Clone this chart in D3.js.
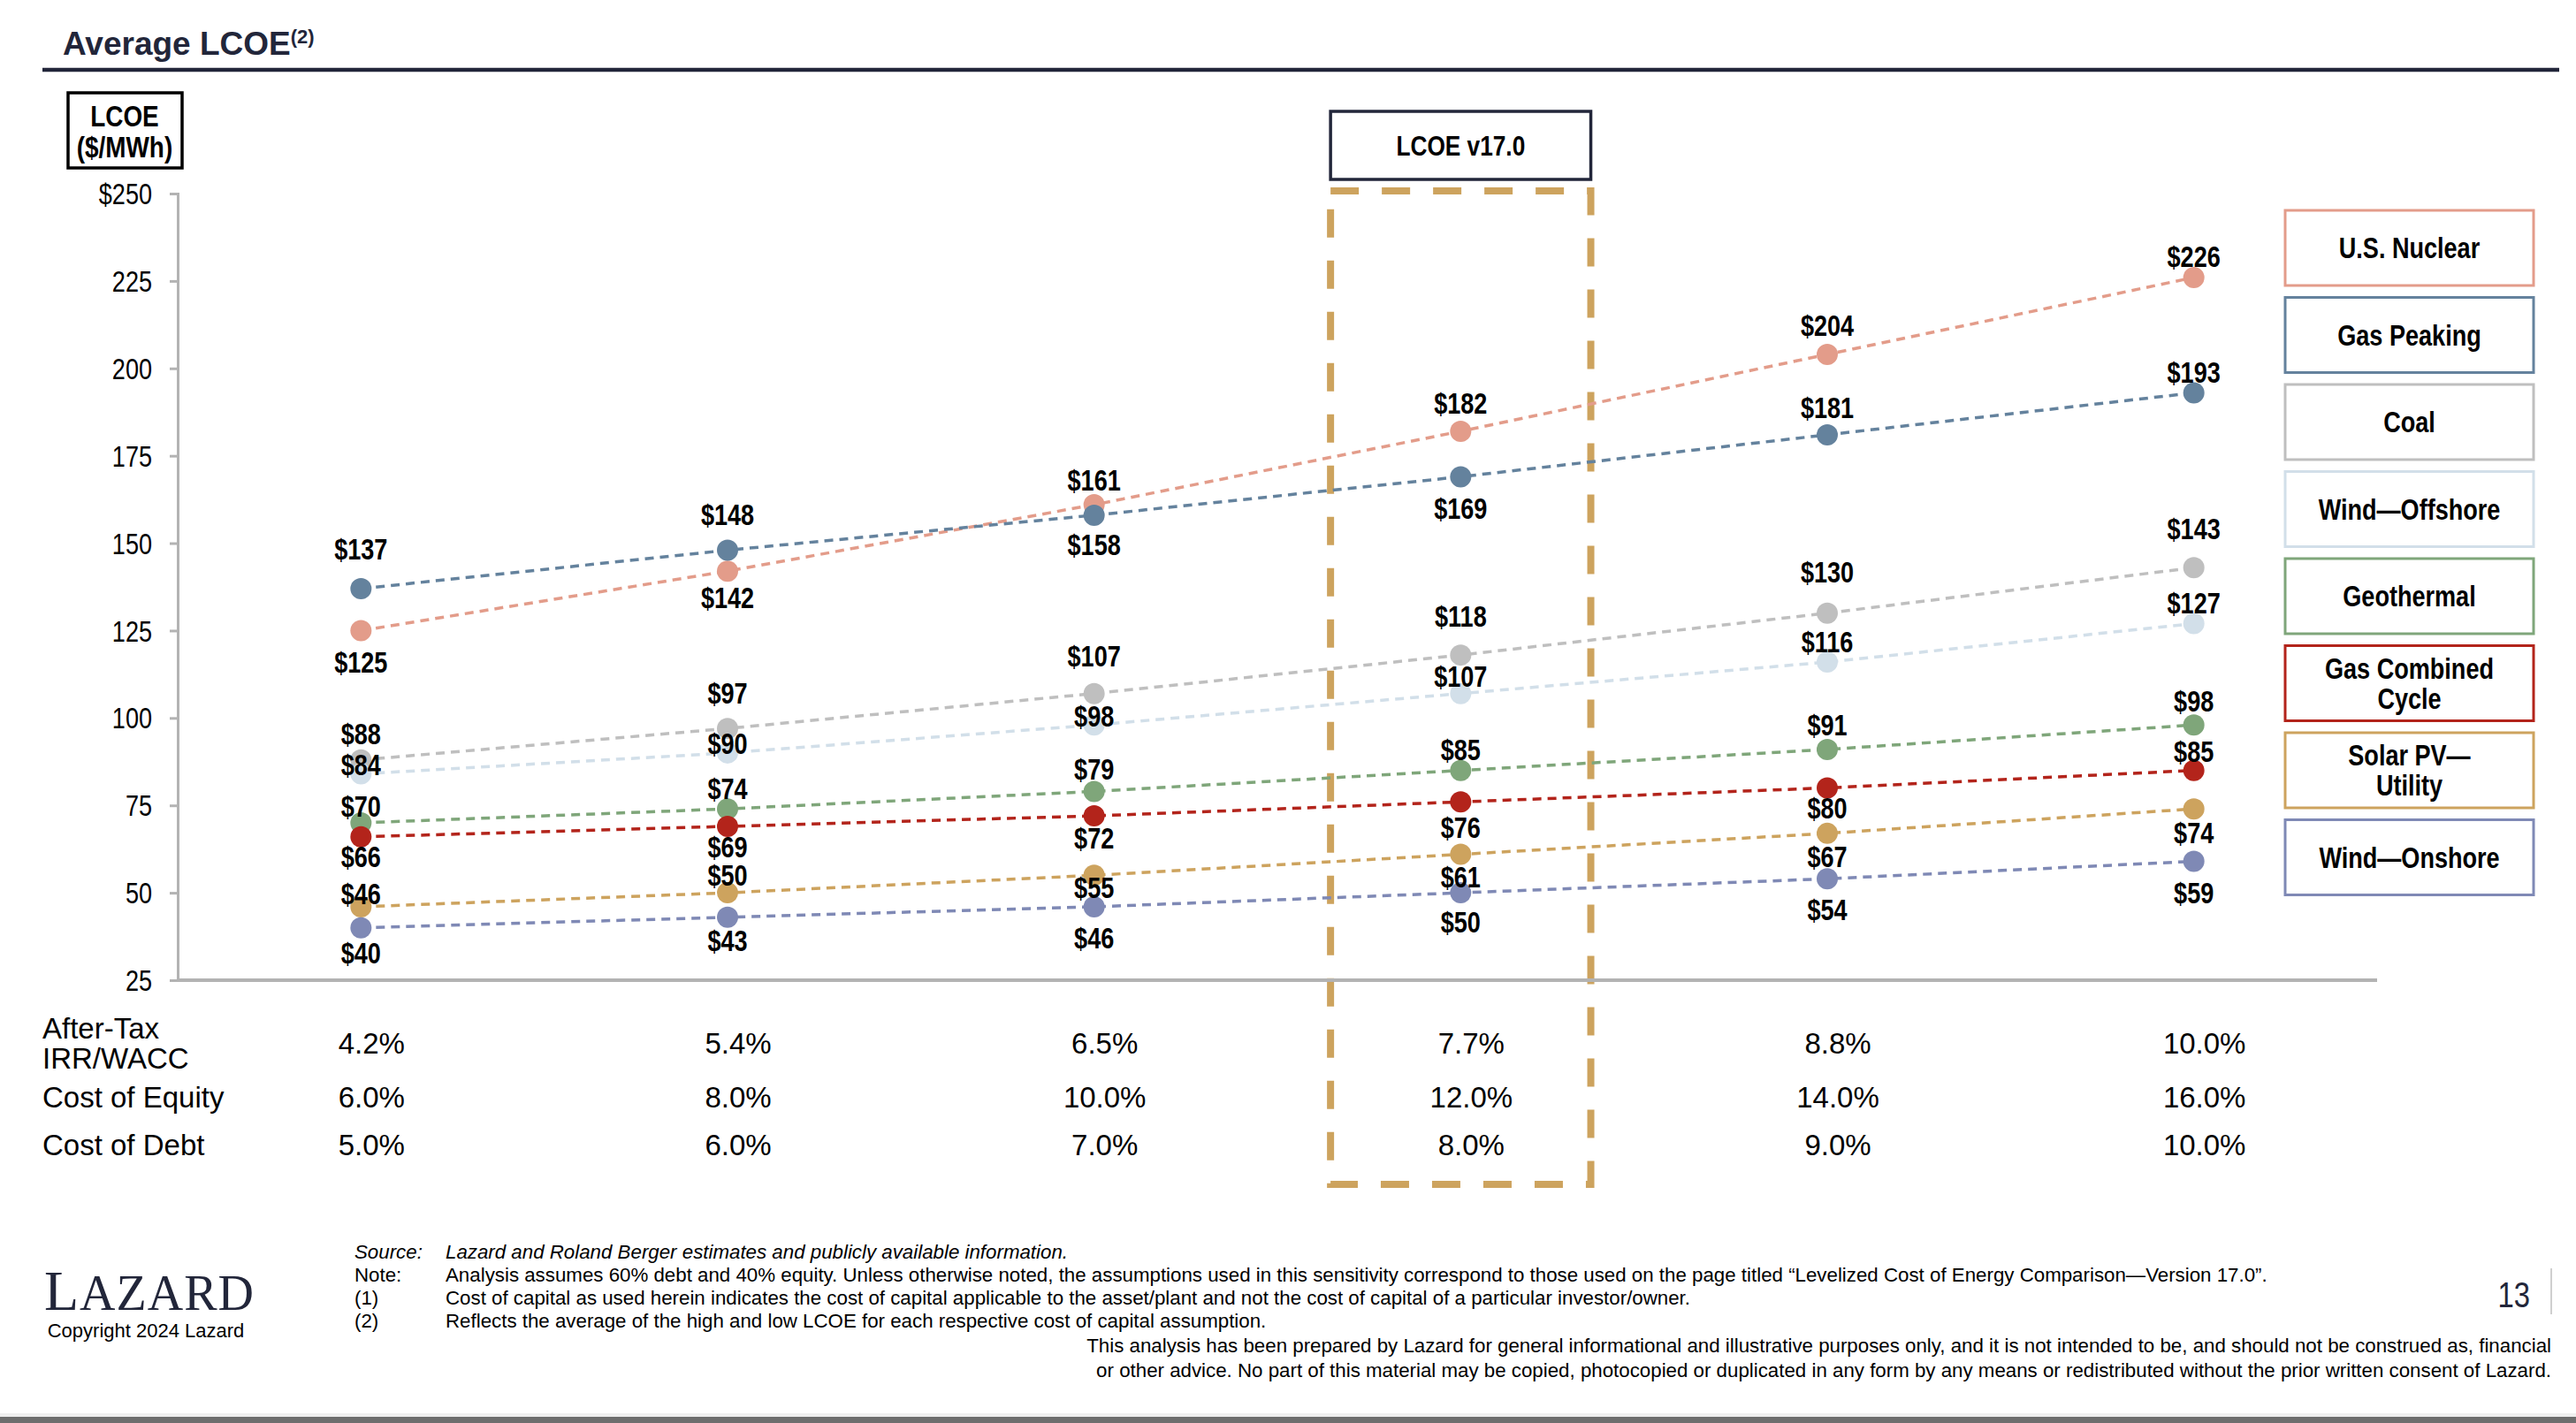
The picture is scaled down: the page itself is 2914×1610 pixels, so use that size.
<!DOCTYPE html>
<html>
<head>
<meta charset="utf-8">
<script src="https://cdn.jsdelivr.net/npm/d3@7"></script>
<style>
  body { margin: 0; background: #fff; }
  svg { display: block; }
</style>
</head>
<body>
<svg id="chart" width="2914" height="1610"></svg>
<script>
// chart data
var waccLabels   = ['4.2%', '5.4%', '6.5%', '7.7%', '8.8%', '10.0%'];
var equityLabels = ['6.0%', '8.0%', '10.0%', '12.0%', '14.0%', '16.0%'];
var debtLabels   = ['5.0%', '6.0%', '7.0%', '8.0%', '9.0%', '10.0%'];

var seriesNames = ['U.S. Nuclear', 'Gas Peaking', 'Coal', 'Wind\u2014Offshore',
                   'Geothermal', 'Gas Combined Cycle', 'Solar PV\u2014Utility', 'Wind\u2014Onshore'];
var nuclear    = [125, 142, 161, 182, 204, 226];
var gasPeaking = [137, 148, 158, 169, 181, 193];
var coal       = [88, 97, 107, 118, 130, 143];
var offshore   = [84, 90, 98, 107, 116, 127];
var geothermal = [70, 74, 79, 85, 91, 98];
var gasCC      = [66, 69, 72, 76, 80, 85];
var solar      = [46, 50, 55, 61, 67, 74];
var onshore    = [40, 43, 46, 50, 54, 59];

var yTicks = [250, 225, 200, 175, 150, 125, 100, 75, 50, 25];

// styling (kept apart from the data)
var colors = ['#e39c8a', '#64829d', '#bfbfbf', '#d2dfe9', '#7fa67a', '#b3241b', '#cda35e', '#7f89b5'];
// pixel offset of each value label from its point (negative = above)
var labelOffsets = [
  [36, 30, -28, -32, -33, -23],
  [-45, -40, 34, 36, -30, -23],
  [-29, -40, -42, -44, -46, -44],
  [-10, -10, -10, -19, -23, -23],
  [-19, -23, -25, -23, -27, -27],
  [23, 23, 25, 29, 23, -21],
  [-14, -20, 14, 26, 27, 27],
  [29, 27, 36, 33, 35, 36]
];

var seriesValues = [nuclear, gasPeaking, coal, offshore, geothermal, gasCC, solar, onshore];
var series = seriesNames.map(function(name, i) {
  return { name: name, values: seriesValues[i], color: colors[i], offsets: labelOffsets[i] };
});

// narrow font check (falls back to squeezing the regular face)
function fontAvailable(name) {
  var c = document.createElement('canvas').getContext('2d');
  c.font = '40px monospace';
  var a = c.measureText('$1234567890 Wind').width;
  c.font = '40px "' + name + '", monospace';
  var b = c.measureText('$1234567890 Wind').width;
  return a !== b;
}
var hasNarrow = fontAvailable('Liberation Sans Narrow');

function narrow(sel) {
  if (hasNarrow) {
    sel.attr('font-family', '"Liberation Sans Narrow", "Arial Narrow", sans-serif');
  } else {
    sel.attr('font-family', '"Liberation Sans", Arial, sans-serif');
    sel.each(function() {
      var w = this.getComputedTextLength();
      d3.select(this).attr('textLength', w * 0.82).attr('lengthAdjust', 'spacingAndGlyphs');
    });
  }
  return sel;
}

var svg = d3.select('#chart')
  .attr('font-family', '"Liberation Sans", Arial, sans-serif');

var navy = '#22263a';

// title
var title = svg.append('text')
  .attr('x', 71).attr('y', 62)
  .attr('font-size', 37).attr('font-weight', 'bold').attr('fill', navy)
  .text('Average LCOE');
title.append('tspan').attr('font-size', 22).attr('dy', -13).text('(2)');

svg.append('line')
  .attr('x1', 48).attr('x2', 2895).attr('y1', 79).attr('y2', 79)
  .attr('stroke', navy).attr('stroke-width', 4.5);

// scales
var x = d3.scalePoint().domain(waccLabels).range([201, 2689]).padding(0.5);
var y = d3.scaleLinear().domain([25, 250]).range([1109, 219]);

// LCOE v17.0 highlight
var hx = x(waccLabels[3]);
var hw = x.step() * 0.355;
svg.append('rect')
  .attr('x', hx - hw).attr('y', y(250) - 3)
  .attr('width', hw * 2).attr('height', 1340 - (y(250) - 3))
  .attr('fill', 'none').attr('stroke', '#cda35e').attr('stroke-width', 8)
  .attr('stroke-dasharray', '32 26');

svg.append('rect')
  .attr('x', hx - hw).attr('y', 126).attr('width', hw * 2).attr('height', 77)
  .attr('fill', '#fff').attr('stroke', navy).attr('stroke-width', 3.5);
narrow(svg.append('text')
  .attr('x', hx).attr('y', 165).attr('dy', '0.35em')
  .attr('text-anchor', 'middle').attr('font-size', 32).attr('font-weight', 'bold')
  .text('LCOE v17.0'));

// y axis label box
svg.append('rect')
  .attr('x', 77).attr('y', 105).attr('width', 129).attr('height', 85)
  .attr('fill', '#fff').attr('stroke', '#000').attr('stroke-width', 3.5);
['LCOE', '($/MWh)'].forEach(function(t, i) {
  narrow(svg.append('text')
    .attr('x', 141).attr('y', 131 + i * 35).attr('dy', '0.35em')
    .attr('text-anchor', 'middle').attr('font-size', 34).attr('font-weight', 'bold')
    .text(t));
});

// y axis
var yAxis = svg.append('g')
  .attr('transform', 'translate(201,0)')
  .call(d3.axisLeft(y).tickValues(yTicks).tickSize(9).tickPadding(20)
    .tickFormat(function(d) { return d === 250 ? '$250' : d; }));
yAxis.select('.domain').attr('stroke', '#b3b3b3').attr('stroke-width', 3);
yAxis.selectAll('.tick line').attr('stroke', '#b3b3b3').attr('stroke-width', 3);
yAxis.selectAll('.tick text').attr('font-size', 33).attr('fill', '#000').attr('dy', '0.35em');
narrow(yAxis.selectAll('.tick text'));

// x baseline
svg.append('line')
  .attr('x1', 201).attr('x2', 2689).attr('y1', y(25)).attr('y2', y(25))
  .attr('stroke', '#b3b3b3').attr('stroke-width', 4);

// lines and points
var line = d3.line()
  .x(function(d, i) { return x(waccLabels[i]); })
  .y(function(d) { return y(d); });

var groups = svg.selectAll('g.series')
  .data(series)
  .enter()
  .append('g')
  .attr('class', 'series');

groups.append('path')
  .attr('d', function(s) { return line(s.values); })
  .attr('fill', 'none')
  .attr('stroke', function(s) { return s.color; })
  .attr('stroke-width', 3.5)
  .attr('stroke-dasharray', '10 7');

groups.selectAll('circle')
  .data(function(s) { return s.values.map(function(v, i) { return { v: v, i: i, s: s }; }); })
  .enter()
  .append('circle')
  .attr('cx', function(d) { return x(waccLabels[d.i]); })
  .attr('cy', function(d) { return y(d.v); })
  .attr('r', 12)
  .attr('fill', function(d) { return d.s.color; });

// value labels on top
var labelData = [];
series.forEach(function(s) {
  s.values.forEach(function(v, i) { labelData.push({ v: v, i: i, s: s }); });
});
var labels = svg.append('g').selectAll('text')
  .data(labelData)
  .enter()
  .append('text')
  .attr('x', function(d) { return x(waccLabels[d.i]); })
  .attr('y', function(d) { return y(d.v) + d.s.offsets[d.i]; })
  .attr('dy', '0.35em')
  .attr('text-anchor', 'middle')
  .attr('font-size', 33)
  .attr('font-weight', 'bold')
  .attr('fill', '#000')
  .text(function(d) { return '$' + d.v; });
narrow(labels);

// legend
var legendTop = 238, legendStep = 98.5;
var legend = svg.selectAll('g.legend')
  .data(series)
  .enter()
  .append('g')
  .attr('class', 'legend')
  .attr('transform', function(d, i) { return 'translate(2585,' + (legendTop + i * legendStep) + ')'; });
legend.append('rect')
  .attr('width', 281).attr('height', 85)
  .attr('fill', '#fff')
  .attr('stroke', function(d) { return d.color; })
  .attr('stroke-width', 3);
legend.each(function(d) {
  var g = d3.select(this);
  var lines = d.name === 'Gas Combined Cycle' ? ['Gas Combined', 'Cycle']
            : d.name === 'Solar PV\u2014Utility' ? ['Solar PV\u2014', 'Utility']
            : [d.name];
  lines.forEach(function(t, k) {
    narrow(g.append('text')
      .attr('x', 140.5)
      .attr('y', 42.5 + (k - (lines.length - 1) / 2) * 34)
      .attr('dy', '0.35em')
      .attr('text-anchor', 'middle')
      .attr('font-size', 33).attr('font-weight', 'bold')
      .text(t));
  });
});

// table under the chart
var rows = [
  { label: ['After-Tax', 'IRR/WACC'], values: waccLabels, y: 1180 },
  { label: ['Cost of Equity'], values: equityLabels, y: 1241 },
  { label: ['Cost of Debt'], values: debtLabels, y: 1295 }
];
rows.forEach(function(r) {
  r.label.forEach(function(t, k) {
    svg.append('text')
      .attr('x', 48)
      .attr('y', r.y + (k - (r.label.length - 1) / 2) * 34)
      .attr('dy', '0.35em')
      .attr('font-size', 33).attr('fill', '#000')
      .text(t);
  });
  svg.append('g').selectAll('text')
    .data(r.values)
    .enter()
    .append('text')
    .attr('x', function(d, i) { return x(waccLabels[i]) + 12; })
    .attr('y', r.y)
    .attr('dy', '0.35em')
    .attr('text-anchor', 'middle')
    .attr('font-size', 33).attr('fill', '#000')
    .text(function(d) { return d; });
});

// footer
var logo = svg.append('text')
  .attr('x', 50).attr('y', 1482)
  .attr('font-family', '"Liberation Serif", "Times New Roman", serif')
  .attr('fill', navy).attr('letter-spacing', 1)
  .attr('font-size', 64).text('L');
logo.append('tspan').attr('font-size', 56).text('AZARD');

svg.append('text')
  .attr('x', 165).attr('y', 1513)
  .attr('text-anchor', 'middle')
  .attr('font-size', 22).attr('fill', '#000')
  .text('Copyright 2024 Lazard');

var notes = [
  ['Source:', 'Lazard and Roland Berger estimates and publicly available information.', true],
  ['Note:', 'Analysis assumes 60% debt and 40% equity. Unless otherwise noted, the assumptions used in this sensitivity correspond to those used on the page titled \u201cLevelized Cost of Energy Comparison\u2014Version 17.0\u201d.', false],
  ['(1)', 'Cost of capital as used herein indicates the cost of capital applicable to the asset/plant and not the cost of capital of a particular investor/owner.', false],
  ['(2)', 'Reflects the average of the high and low LCOE for each respective cost of capital assumption.', false]
];
notes.forEach(function(n, i) {
  var yy = 1416 + i * 26;
  svg.append('text')
    .attr('x', 401).attr('y', yy).attr('dy', '0.35em')
    .attr('font-size', 22.3).attr('font-style', n[2] ? 'italic' : 'normal')
    .text(n[0]);
  svg.append('text')
    .attr('x', 504).attr('y', yy).attr('dy', '0.35em')
    .attr('font-size', 22.3).attr('font-style', n[2] ? 'italic' : 'normal')
    .text(n[1]);
});

var disclaimer = [
  'This analysis has been prepared by Lazard for general informational and illustrative purposes only, and it is not intended to be, and should not be construed as, financial',
  'or other advice. No part of this material may be copied, photocopied or duplicated in any form by any means or redistributed without the prior written consent of Lazard.'
];
disclaimer.forEach(function(t, i) {
  svg.append('text')
    .attr('x', 2886).attr('y', 1522 + i * 28).attr('dy', '0.35em')
    .attr('text-anchor', 'end')
    .attr('font-size', 22.3)
    .text(t);
});

narrow(svg.append('text')
  .attr('x', 2862).attr('y', 1479)
  .attr('text-anchor', 'end')
  .attr('font-size', 40).attr('fill', navy)
  .text('13'));
svg.append('line')
  .attr('x1', 2886).attr('x2', 2886).attr('y1', 1435).attr('y2', 1487)
  .attr('stroke', '#cfcfcf').attr('stroke-width', 2);

svg.append('rect').attr('x', 0).attr('y', 1599).attr('width', 2914).attr('height', 4).attr('fill', '#efefef');
svg.append('rect').attr('x', 0).attr('y', 1603).attr('width', 2914).attr('height', 7).attr('fill', '#6e6e6e');
</script>
</body>
</html>
